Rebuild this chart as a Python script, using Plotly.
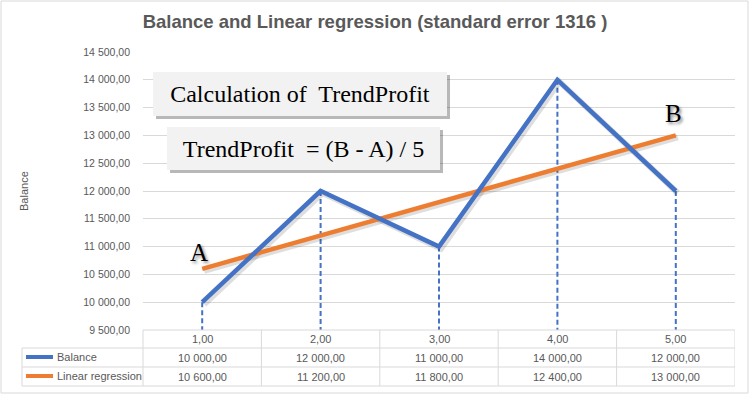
import plotly.graph_objects as go

# ---- data ----
periods = [1, 2, 3, 4, 5]
period_labels = ["1,00", "2,00", "3,00", "4,00", "5,00"]
balance = [10000, 12000, 11000, 14000, 12000]
regression = [10600, 11200, 11800, 12400, 13000]
y_ticks = [9500, 10000, 10500, 11000, 11500, 12000, 12500, 13000, 13500, 14000, 14500]
series_names = ["Balance", "Linear regression"]
title_text = "Balance and Linear regression (standard error 1316 )"
box1_text = "Calculation of  TrendProfit"
box2_text = "TrendProfit  = (B - A) / 5"

BLUE = "#4472C4"
ORANGE = "#ED7D31"
GRAY_TXT = "#595959"
GRID = "#d9d9d9"

W, H = 750, 394
L, R, T, B = 143, 735, 52, 330  # plot area in pixels


def fmt(v):
    return f"{v:,.2f}".replace(",", " ").replace(".", ",")


def px(x):
    return (x - L) / (R - L)


def py(y):
    return (B - y) / (B - T)


fig = go.Figure()

# dashed drop lines from balance points
dx, dy = [], []
for p, v in zip(periods, balance):
    dx += [p, p, None]
    dy += [v, y_ticks[0], None]
fig.add_trace(go.Scatter(x=dx, y=dy, mode="lines",
                         line=dict(color=BLUE, width=2, dash="5px,3px"),
                         hoverinfo="skip", showlegend=False))

# soft shadows under the series lines (offset ~2px right/down)
x_off = 2 / ((R - L) / 5)
y_off = 2 / ((B - T) / (y_ticks[-1] - y_ticks[0]))
for vals in (regression, balance):
    fig.add_trace(go.Scatter(x=[p + x_off for p in periods], y=[v - y_off for v in vals],
                             mode="lines", line=dict(color="rgba(0,0,0,0.13)", width=6),
                             hoverinfo="skip", showlegend=False))

fig.add_trace(go.Scatter(x=periods, y=regression, mode="lines", name=series_names[1],
                         line=dict(color=ORANGE, width=4.5), showlegend=False))
fig.add_trace(go.Scatter(x=periods, y=balance, mode="lines", name=series_names[0],
                         line=dict(color=BLUE, width=4.5), showlegend=False))

shapes = []
annotations = []

# table lines
line_style = dict(color=GRID, width=1)
for yy, x0 in [(330, 143), (348, 22), (367, 22), (386, 22)]:
    shapes.append(dict(type="line", xref="paper", yref="paper",
                       x0=px(x0), x1=px(R), y0=py(yy), y1=py(yy), line=line_style))
shapes.append(dict(type="line", xref="paper", yref="paper",
                   x0=px(22), x1=px(22), y0=py(348), y1=py(386), line=line_style))
shapes.append(dict(type="line", xref="paper", yref="paper",
                   x0=px(143), x1=px(143), y0=py(330), y1=py(386), line=line_style))
for p in periods:
    shapes.append(dict(type="line", xref="x", yref="paper",
                       x0=p + 0.5, x1=p + 0.5, y0=py(330), y1=py(386), line=line_style))

# outer chart border
shapes.append(dict(type="rect", xref="paper", yref="paper",
                   x0=px(1), x1=px(748), y0=py(1), y1=py(393),
                   line=dict(color=GRID, width=1), layer="below"))

# legend keys in table
for yy, col in [(357, BLUE), (376, ORANGE)]:
    shapes.append(dict(type="line", xref="paper", yref="paper",
                       x0=px(26), x1=px(53), y0=py(yy), y1=py(yy),
                       line=dict(color=col, width=4)))

tfont = dict(family="Liberation Sans, Arial", size=11, color=GRAY_TXT)
for name, yy in zip(series_names, [357, 376]):
    annotations.append(dict(text=name, xref="paper", yref="paper", x=px(55), y=py(yy),
                            xanchor="left", yanchor="middle", showarrow=False, font=tfont))

for p, lab, bv, rv in zip(periods, period_labels, balance, regression):
    annotations.append(dict(text=lab, xref="x", yref="paper", x=p, y=py(339),
                            xanchor="center", yanchor="middle", showarrow=False, font=tfont))
    annotations.append(dict(text=fmt(bv), xref="x", yref="paper", x=p, y=py(357.5),
                            xanchor="center", yanchor="middle", showarrow=False, font=tfont))
    annotations.append(dict(text=fmt(rv), xref="x", yref="paper", x=p, y=py(376.5),
                            xanchor="center", yanchor="middle", showarrow=False, font=tfont))

# y axis title
annotations.append(dict(text="Balance", xref="paper", yref="paper", x=px(24), y=py(191),
                        textangle=-90, showarrow=False, xanchor="center", yanchor="middle",
                        font=dict(family="Liberation Sans, Arial", size=11, color=GRAY_TXT)))

# text boxes with shadows
serif = "Liberation Serif, Times New Roman, serif"
for (x0, x1, y0, y1, txt) in [(153, 447, 72, 116, box1_text), (167, 440, 127, 170, box2_text)]:
    shapes.append(dict(type="rect", xref="paper", yref="paper",
                       x0=px(x0 + 3), x1=px(x1 + 3), y0=py(y0 + 3), y1=py(y1 + 3),
                       fillcolor="rgba(0,0,0,0.28)", line=dict(width=0), layer="above"))
    annotations.append(dict(text=txt, xref="paper", yref="paper",
                            x=px((x0 + x1) / 2), y=py((y0 + y1) / 2),
                            xanchor="center", yanchor="middle", showarrow=False,
                            width=x1 - x0, height=y1 - y0, bgcolor="#f2f2f2",
                            borderpad=0, borderwidth=0,
                            font=dict(family=serif, size=24, color="#000000")))

# A and B labels near the regression end points
lab_font = dict(family=serif, size=25, color="#000000",
                shadow="2px 2px 3px rgba(0,0,0,0.45)")
annotations.append(dict(text="A", xref="x", yref="y", x=periods[0], y=regression[0],
                        xshift=-3, yshift=16, showarrow=False, font=lab_font))
annotations.append(dict(text="B", xref="x", yref="y", x=periods[-1], y=regression[-1],
                        xshift=-2, yshift=22, showarrow=False, font=lab_font))

fig.update_layout(
    width=W, height=H,
    margin=dict(l=L, r=W - R, t=T, b=H - B, pad=0),
    paper_bgcolor="white", plot_bgcolor="white",
    title=dict(text="<b>" + title_text + "</b>", x=0.5, xref="container", xanchor="center",
               y=1 - 22 / H, yanchor="middle",
               font=dict(family="Liberation Sans, Arial", size=18.5, color=GRAY_TXT)),
    xaxis=dict(range=[0.5, 5.5], showgrid=False, zeroline=False, showticklabels=False,
               showline=False, fixedrange=True),
    yaxis=dict(range=[y_ticks[0], y_ticks[-1]], tickvals=y_ticks,
               ticktext=[fmt(v) for v in y_ticks], showgrid=True, gridcolor=GRID, gridwidth=1,
               zeroline=False, showline=False, ticks="", ticklabelstandoff=12,
               tickfont=dict(family="Liberation Sans, Arial", size=10.5, color=GRAY_TXT)),
    shapes=shapes, annotations=annotations, showlegend=False,
)

fig.write_html("out.html", config={"displayModeBar": False},
               post_script="document.body.style.margin='0';document.body.style.padding='0';")
